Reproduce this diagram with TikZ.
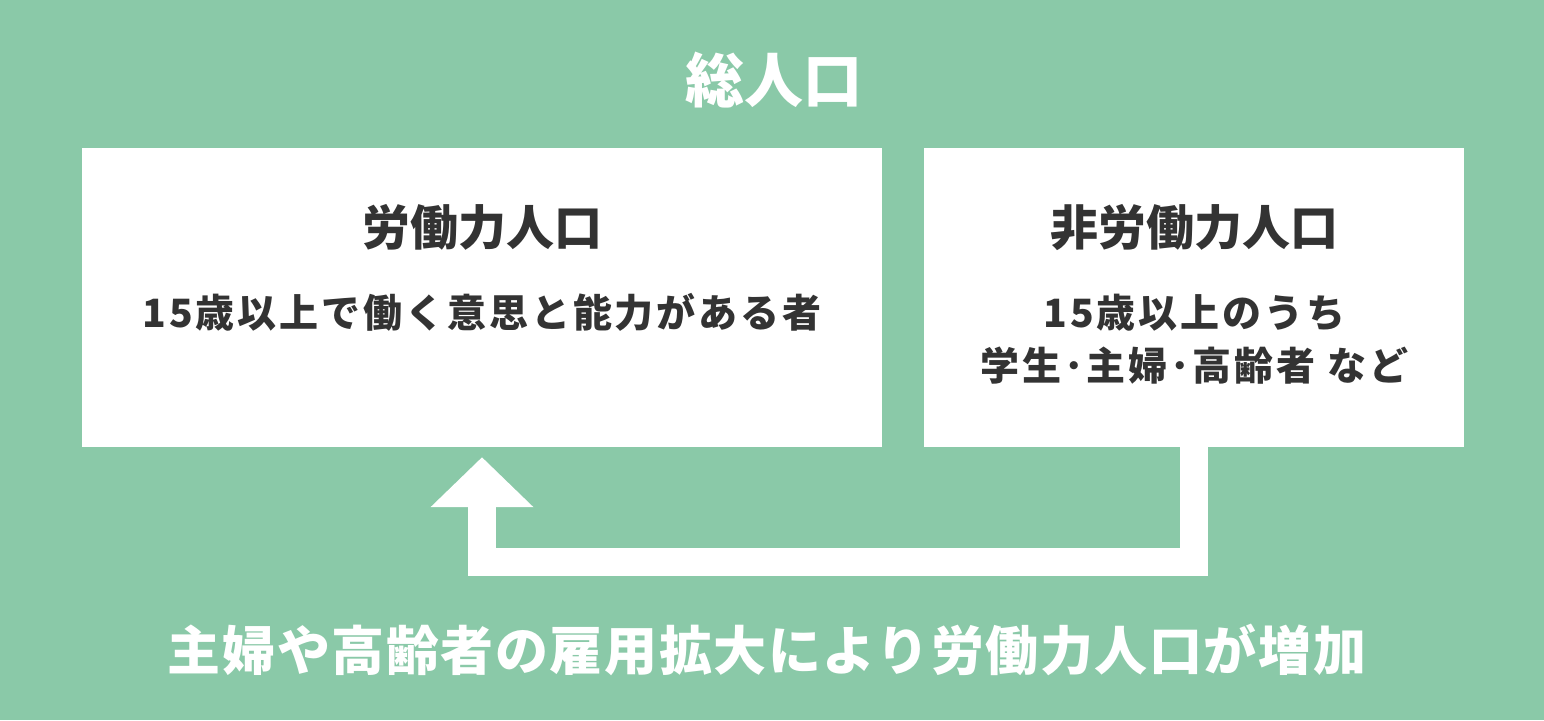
\documentclass[tikz,border=0pt]{standalone}
\usepackage{fontspec}
\newfontfamily\jp{Noto Sans CJK JP}
\usetikzlibrary{positioning, arrows.meta}
\definecolor{bggreen}{HTML}{8AC9A8}
\definecolor{txtgray}{HTML}{333333}

\begin{document}
\begin{tikzpicture}[x=1pt, y=-1pt,
		panel/.style={fill=white, draw=none, minimum height=299pt, inner sep=0pt},
		head/.style={font=\jp\bfseries\fontsize{48}{58}\selectfont, text=txtgray, inner sep=0pt},
		body/.style={font=\jp\bfseries\fontsize{39}{53}\selectfont\addfontfeatures{LetterSpace=7.5}, text=txtgray, align=center, inner sep=0pt},
		flow/.style={draw=white, line width=28pt, line join=miter, -{Triangle[width=100pt, length=50pt]}}
	]
	\fill[bggreen] (0,0) rectangle (1544,720);
	\useasboundingbox (0,0) rectangle (1544,720);

	\node[white, inner sep=0pt, font=\jp\bfseries\fontsize{59}{70}\selectfont] (total) at (774,80) {総人口};

	% the two groups
	\node[panel, minimum width=800pt] (lf) at (482,297.5) {};
	\node[panel, minimum width=540pt, right=42pt of lf] (nlf) {};

	\node[head] (lf-title) at ([yshift=-80pt]lf.north) {労働力人口};
	\node[body] (lf-text) at ([yshift=-165pt]lf.north) {15歳以上で働く意思と能力がある者};
	\node[head] (nlf-title) at ([yshift=-80pt]nlf.north) {非労働力人口};
	\node[body] (nlf-text) at ([yshift=-191pt]nlf.north) {15歳以上のうち\\学生･主婦･高齢者 など};

	% shift from non-labour to labour force
	\draw[flow] (nlf.south) |- ([yshift=-115pt]lf.south) -- ([yshift=-10pt]lf.south);

	\node[white, inner sep=0pt, font=\jp\bfseries\fontsize{53}{64}\selectfont\addfontfeatures{LetterSpace=3}] (shift) at (767,650) {主婦や高齢者の雇用拡大により労働力人口が増加};
\end{tikzpicture}
\end{document}
